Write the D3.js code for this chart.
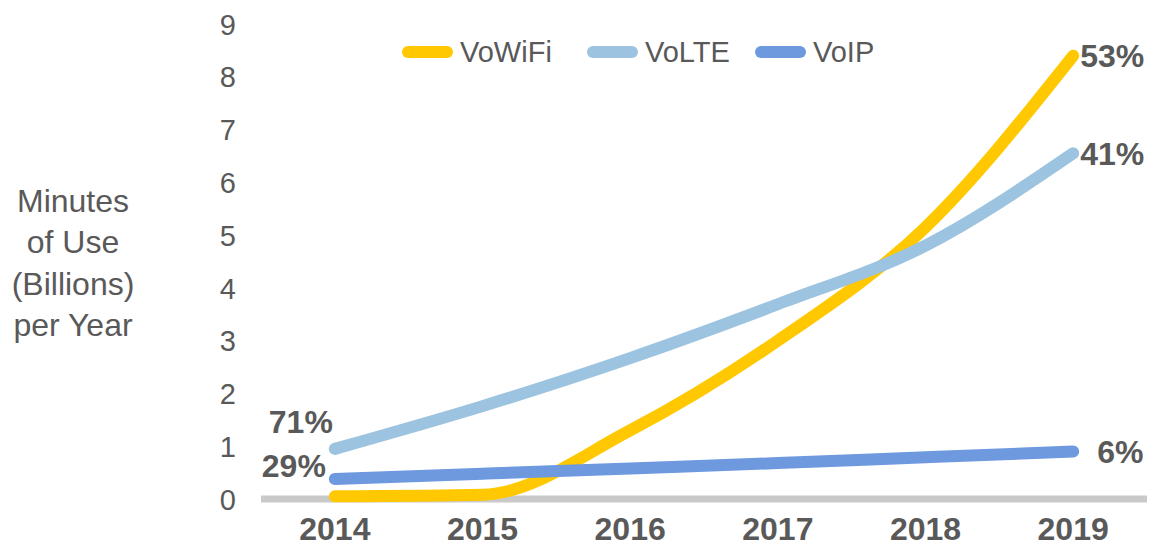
<!DOCTYPE html>
<html><head><meta charset="utf-8">
<script src="https://cdn.jsdelivr.net/npm/d3@7"></script>
<style>
html,body{margin:0;padding:0;background:#fff;}
svg text{font-family:"Liberation Sans",Arial,sans-serif;fill:#595959;}
</style></head>
<body><svg id="c" width="1158" height="550"></svg>
<script>
const years = ["2014","2015","2016","2017","2018","2019"];
const voWiFi = [0.05, 0.08, 1.3, 3.0, 5.15, 8.4];
const voLTE  = [0.95, 1.76, 2.67, 3.69, 4.8, 6.55];
const voIP   = [0.38, 0.48, 0.58, 0.68, 0.79, 0.9];
const yTicks = [0,1,2,3,4,5,6,7,8,9];
const seriesNames = ["VoWiFi","VoLTE","VoIP"];
const colors = ["#FFC800","#9CC3E0","#6E99DF"];
const startLabels = [null,"71%","29%"];
const endLabels = ["53%","41%","6%"];

const svg = d3.select("#c");
const x = d3.scaleBand().domain(years).range([261,1147]);
const y = d3.scaleLinear().domain([0,9]).range([499,24]);
const cx = d => x(d)+x.bandwidth()/2;

// y tick labels
const yAxis = d3.axisLeft(y).tickValues(yTicks).tickSize(0).tickPadding(0);
const gy = svg.append("g").attr("transform","translate(236,0)").call(yAxis);
gy.select(".domain").remove();
gy.selectAll("text").style("font-size","29px").attr("fill","#595959").attr("dy","0.35em");

// baseline
svg.append("line").attr("x1",261).attr("x2",1147).attr("y1",y(0)).attr("y2",y(0))
  .attr("stroke","#C9C9C9").attr("stroke-width",7);

// x axis labels
const xAxis = d3.axisBottom(x).tickSize(0).tickPadding(0);
const gx = svg.append("g").attr("transform","translate(0,517)").call(xAxis);
gx.select(".domain").remove();
gx.selectAll("text").style("font-size","32px").style("font-weight","bold").attr("fill","#595959").attr("dy","0.72em");

// y title
const title = ["Minutes","of Use","(Billions)","per Year"];
svg.append("text").attr("text-anchor","middle").style("font-size","32px")
  .selectAll("tspan").data(title).join("tspan")
  .attr("x",73).attr("y",(d,i)=>212+i*41.3).text(d=>d);

// lines
const data = [voWiFi, voLTE, voIP];
const line = d3.line().x((d,i)=>cx(years[i])).y(d=>y(d)).curve(d3.curveMonotoneX);
data.forEach((s,k)=>{
  svg.append("path").datum(s).attr("d",line).attr("fill","none")
    .attr("stroke",colors[k]).attr("stroke-width",12).attr("stroke-linecap","round");
});

// end labels
data.forEach((s,k)=>{
  const last = s[s.length-1];
  svg.append("text").attr("x",cx(years[5])+ (k===2?24:7)).attr("y",y(last)).attr("dy","0.36em")
    .style("font-size","32px").style("font-weight","bold").text(endLabels[k]);
  if(startLabels[k]){
    svg.append("text").attr("x",cx(years[0])+ (k===1?-2:-9)).attr("y",y(s[0]) - (k===1?27:13)).attr("dy","0.36em")
      .attr("text-anchor","end").style("font-size","32px").style("font-weight","bold").text(startLabels[k]);
  }
});

// legend
const legX = [402,587,755];
seriesNames.forEach((n,k)=>{
  svg.append("line").attr("x1",legX[k]+6).attr("x2",legX[k]+45).attr("y1",52).attr("y2",52)
    .attr("stroke",colors[k]).attr("stroke-width",12).attr("stroke-linecap","round");
  svg.append("text").attr("x",legX[k]+58).attr("y",52).attr("dy","0.36em")
    .style("font-size","29px").text(n);
});
</script></body></html>
